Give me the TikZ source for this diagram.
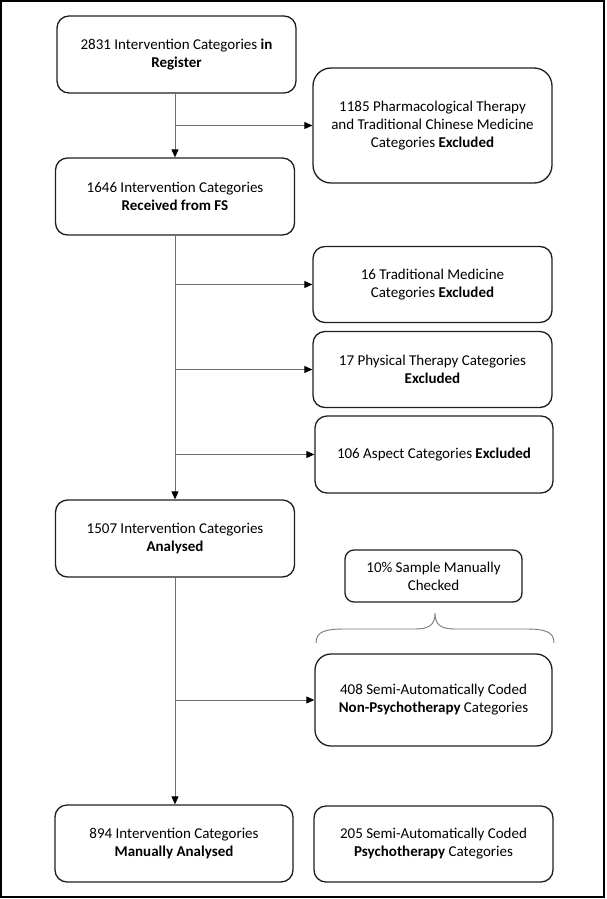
\documentclass[tikz,border=0pt]{standalone}
\usepackage{fontspec}
\setmainfont{Carlito}
\usetikzlibrary{arrows.meta}
\definecolor{boxline}{RGB}{30,30,30}
\definecolor{connline}{RGB}{110,110,110}
\definecolor{braceline}{RGB}{120,120,120}
\begin{document}
\begin{tikzpicture}[x=1pt,y=-1pt,
  flowbox/.style={draw=boxline, line width=1.3pt, rectangle, rounded corners=12pt,
    minimum width=239pt, minimum height=77pt, align=center, inner sep=2pt,
    font=\fontsize{15}{18}\selectfont},
  conn/.style={draw=connline, line width=0.9pt,
    -{Triangle[length=8pt,width=7pt,color=black]}}
]
\useasboundingbox (0,0) rectangle (607,899);
\draw[line width=1.5pt] (1,1) rectangle (604,897);

\node[flowbox] (b1) at (176.5,54.5) {2831 Intervention Categories \textbf{in}\\\textbf{Register}};
\node[flowbox, minimum height=115pt, rounded corners=18pt] (b2) at (432.5,125.5) {1185 Pharmacological Therapy\\and Traditional Chinese Medicine\\Categories \textbf{Excluded}};
\node[flowbox] (b3) at (175,196.5) {1646 Intervention Categories\\\textbf{Received from FS}};
\node[flowbox, minimum height=76pt] (b4) at (432.5,284.5) {16 Traditional Medicine\\Categories \textbf{Excluded}};
\node[flowbox, minimum height=76pt] (b5) at (432.5,369.5) {17 Physical Therapy Categories\\\textbf{Excluded}};
\node[flowbox, minimum width=238pt, minimum height=77pt] (b6) at (434,454.5) {106 Aspect Categories \textbf{Excluded}};
\node[flowbox] (b7) at (175,538.5) {1507 Intervention Categories\\\textbf{Analysed}};
\node[flowbox, minimum width=177pt, minimum height=52pt, rounded corners=9pt] (b8) at (433.5,576) {10\% Sample Manually\\Checked};
\node[flowbox, minimum width=237pt, minimum height=92pt, rounded corners=16pt] (b9) at (433.5,700) {408 Semi-Automatically Coded\\\textbf{Non-Psychotherapy} Categories};
\node[flowbox, minimum width=238pt] (b10) at (174,843.5) {894 Intervention Categories\\\textbf{Manually Analysed}};
\node[flowbox, minimum width=239pt, minimum height=76pt] (b11) at (433.5,844) {205 Semi-Automatically Coded\\\textbf{Psychotherapy} Categories};

% main spine connectors
\coordinate (s1) at (175,93);
\draw[conn] (s1) -- (s1 |- b3.north);
\coordinate (j1) at (s1 |- b2.west);
\draw[conn] (j1) -- (b2.west);

\draw[conn] (b3.south) -- (b3.south |- b7.north);
\coordinate (j2) at (b3.south |- b4.west);
\coordinate (j3) at (b3.south |- b5.west);
\coordinate (j4) at (b3.south |- b6.west);
\draw[conn] (j2) -- (b4.west);
\draw[conn] (j3) -- (b5.west);
\draw[conn] (j4) -- (b6.west);

\draw[conn] (b7.south) -- (b7.south |- b10.north);
\coordinate (j5) at (b7.south |- b9.west);
\draw[conn] (j5) -- (b9.west);

% brace
\draw[braceline, line width=0.9pt]
  (316,643) .. controls (316,631) and (326,629) .. (345,629) -- (415,629)
  .. controls (429,629) and (435,625) .. (435,613)
  .. controls (435,625) and (441,629) .. (455,629) -- (525,629)
  .. controls (544,629) and (554,631) .. (554,643);
\end{tikzpicture}
\end{document}
